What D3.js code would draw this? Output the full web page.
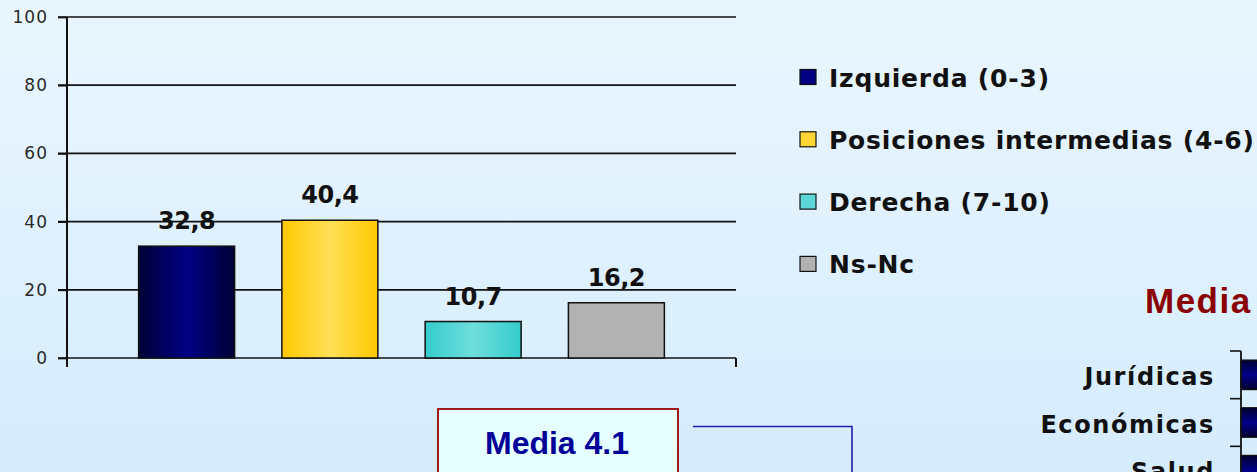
<!DOCTYPE html>
<html lang="es">
<head>
<meta charset="utf-8">
<script src="https://cdn.jsdelivr.net/npm/d3@7/dist/d3.min.js"></script>
<style>
  html, body { margin: 0; padding: 0; overflow: hidden; }
  svg { display: block; }
</style>
</head>
<body>
<svg id="chart" width="1257" height="472"></svg>
<script>
// Distribución por posición ideológica (%)
const seriesNames = ["Izquierda (0-3)", "Posiciones intermedias (4-6)", "Derecha (7-10)", "Ns-Nc"];
const seriesValues = [32.8, 40.4, 10.7, 16.2];
const yTicks = [0, 20, 40, 60, 80, 100];

// Media por rama de conocimiento (parcialmente visible)
const mediaTitle = "Media";
const mediaCategories = ["Jurídicas", "Económicas", "Salud"];
const mediaValues = [4.2, 4.0, 4.1];
const mediaGlobal = 4.1;

const W = 1257, H = 472;
const svg = d3.select("#chart");
const defs = svg.append("defs");

// Background wash
const bg = defs.append("linearGradient").attr("id", "bg")
  .attr("x1", 0).attr("y1", 0).attr("x2", 0).attr("y2", 1);
bg.append("stop").attr("offset", "0%").attr("stop-color", "#EAF6FE");
bg.append("stop").attr("offset", "100%").attr("stop-color", "#D5ECFD");
svg.append("rect").attr("width", W).attr("height", H).attr("fill", "url(#bg)");

// Bar fills: darker edges, lighter centre
const fills = [
  { id: "g0", edge: "#000036", mid: "#000084" },
  { id: "g1", edge: "#FFC800", mid: "#FFDF55" },
  { id: "g2", edge: "#33CCCC", mid: "#6FDEDC" },
  { id: "g3", edge: "#B2B2B2", mid: "#B2B2B2" }
];
const legendFill = ["#000080", "#FFD633", "#5CD6D6", "#B2B2B2"];
fills.forEach(f => {
  const g = defs.append("linearGradient").attr("id", f.id)
    .attr("x1", 0).attr("y1", 0).attr("x2", 1).attr("y2", 0);
  g.append("stop").attr("offset", "0%").attr("stop-color", f.edge);
  g.append("stop").attr("offset", "50%").attr("stop-color", f.mid);
  g.append("stop").attr("offset", "100%").attr("stop-color", f.edge);
});
const hbar = defs.append("linearGradient").attr("id", "hbar")
  .attr("x1", 0).attr("y1", 0).attr("x2", 0).attr("y2", 1);
hbar.append("stop").attr("offset", "0%").attr("stop-color", "#00002E");
hbar.append("stop").attr("offset", "50%").attr("stop-color", "#00008A");
hbar.append("stop").attr("offset", "100%").attr("stop-color", "#00002E");

const fmt = d3.formatLocale({ decimal: ",", thousands: ".", grouping: [3], currency: ["", " €"] }).format(".1f");

// ---- Main column chart ----
const plot = { left: 67, right: 736, top: 17, bottom: 358 };
const y = d3.scaleLinear().domain([0, 100]).range([plot.bottom, plot.top]);
const x = d3.scaleBand().domain(seriesNames).range([plot.left, plot.right])
  .paddingInner(0.33).paddingOuter(0.5);

const lineColor = "#111";

// Gridlines
svg.append("g").selectAll("line").data(yTicks).join("line")
  .attr("x1", plot.left - 9).attr("x2", plot.right)
  .attr("y1", d => y(d)).attr("y2", d => y(d))
  .attr("stroke", lineColor).attr("stroke-width", 1.7);

// Y axis labels
const yAxis = svg.append("g").attr("transform", `translate(${plot.left},0)`)
  .call(d3.axisLeft(y).tickValues(yTicks).tickSize(9).tickPadding(10));
yAxis.select(".domain").remove();
yAxis.selectAll(".tick line").attr("stroke", lineColor).attr("stroke-width", 1.7);
yAxis.selectAll(".tick text")
  .attr("font-family", "'DejaVu Sans', sans-serif")
  .attr("font-size", 17).attr("fill", "#2a2a2a").attr("letter-spacing", 1);

// Y axis line and category boundary ticks
svg.append("line").attr("x1", plot.left).attr("x2", plot.left)
  .attr("y1", plot.top).attr("y2", plot.bottom + 9)
  .attr("stroke", lineColor).attr("stroke-width", 2);
svg.append("line").attr("x1", plot.right).attr("x2", plot.right)
  .attr("y1", plot.bottom).attr("y2", plot.bottom + 9)
  .attr("stroke", lineColor).attr("stroke-width", 2);

// Bars
svg.append("g").selectAll("rect").data(seriesValues).join("rect")
  .attr("x", (d, i) => x(seriesNames[i]))
  .attr("width", x.bandwidth())
  .attr("y", d => y(d))
  .attr("height", d => y(0) - y(d))
  .attr("fill", (d, i) => `url(#${fills[i].id})`)
  .attr("stroke", "#111").attr("stroke-width", 1.5);

// Value labels
svg.append("g").selectAll("text").data(seriesValues).join("text")
  .attr("x", (d, i) => x(seriesNames[i]) + x.bandwidth() / 2)
  .attr("y", d => y(d) - 17)
  .attr("text-anchor", "middle")
  .attr("font-family", "'DejaVu Sans', sans-serif")
  .attr("font-weight", "bold").attr("font-size", 24)
  .attr("letter-spacing", -0.5)
  .attr("fill", "#111")
  .text(d => fmt(d));

// Legend
const legend = svg.append("g").selectAll("g").data(seriesNames).join("g")
  .attr("transform", (d, i) => `translate(800, ${77 + i * 62.3})`);
legend.append("rect")
  .attr("x", 0).attr("y", -7.5).attr("width", 16).attr("height", 15)
  .attr("fill", (d, i) => legendFill[i])
  .attr("stroke", "#111").attr("stroke-width", 1.2);
legend.append("text")
  .attr("x", 29).attr("y", 9.5)
  .attr("font-family", "'DejaVu Sans', sans-serif")
  .attr("font-weight", "bold").attr("font-size", 25)
  .attr("letter-spacing", 0.8)
  .attr("fill", "#111")
  .text(d => d);

// ---- "Media" box and connector ----
svg.append("rect")
  .attr("x", 438).attr("y", 409).attr("width", 240).attr("height", 80)
  .attr("fill", "#E6FFFF").attr("stroke", "#990000").attr("stroke-width", 1.8);
svg.append("text")
  .attr("x", 557).attr("y", 454).attr("text-anchor", "middle")
  .attr("font-family", "'Liberation Sans', Arial, sans-serif")
  .attr("font-weight", "bold").attr("font-size", 32)
  .attr("fill", "#000099")
  .text(`Media ${d3.format(".1f")(mediaGlobal)}`);
svg.append("path")
  .attr("d", "M693,426.5 H852 V480")
  .attr("fill", "none").attr("stroke", "#1F1FA8").attr("stroke-width", 1.6);

// ---- Horizontal bars: media por rama ----
svg.append("text")
  .attr("x", 1145).attr("y", 313)
  .attr("font-family", "'Liberation Sans', Arial, sans-serif")
  .attr("font-weight", "bold").attr("font-size", 35)
  .attr("letter-spacing", 1.5)
  .attr("fill", "#8B0000")
  .text(mediaTitle);

const hy = d3.scaleBand().domain(mediaCategories).range([351, 494])
  .paddingInner(0.38).paddingOuter(0.19);
const hx = d3.scaleLinear().domain([0, 10]).range([1241, 1841]);

svg.append("g").selectAll("rect").data(mediaValues).join("rect")
  .attr("x", hx(0))
  .attr("y", (d, i) => hy(mediaCategories[i]))
  .attr("width", d => hx(d) - hx(0))
  .attr("height", hy.bandwidth())
  .attr("fill", "url(#hbar)")
  .attr("stroke", "#111").attr("stroke-width", 1.2);

const bounds = d3.range(mediaCategories.length + 1).map(i => hy.range()[0] + i * hy.step());
svg.append("g").selectAll("line").data(bounds).join("line")
  .attr("x1", hx(0) - 11).attr("x2", hx(0))
  .attr("y1", d => d).attr("y2", d => d)
  .attr("stroke", lineColor).attr("stroke-width", 1.6);
svg.append("line").attr("x1", hx(0)).attr("x2", hx(0))
  .attr("y1", hy.range()[0]).attr("y2", H)
  .attr("stroke", lineColor).attr("stroke-width", 1.8);

svg.append("g").selectAll("text").data(mediaCategories).join("text")
  .attr("x", 1215)
  .attr("y", d => hy(d) + hy.bandwidth() / 2 + 10)
  .attr("text-anchor", "end")
  .attr("font-family", "'DejaVu Sans', sans-serif")
  .attr("font-weight", "bold").attr("font-size", 24)
  .attr("letter-spacing", 1.6)
  .attr("fill", "#111")
  .text(d => d);
</script>
</body>
</html>
